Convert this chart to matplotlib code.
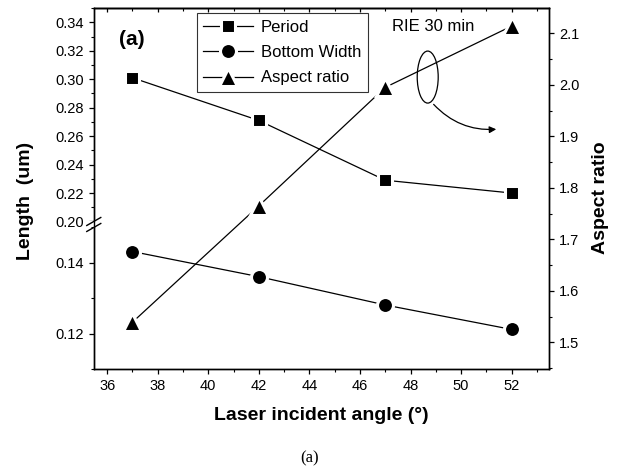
import numpy as np
import matplotlib
matplotlib.use('Agg')
import matplotlib.pyplot as plt
import matplotlib.transforms as mtransforms
from matplotlib.patches import Ellipse, Rectangle
from matplotlib.ticker import MultipleLocator, FixedLocator

plt.rcParams['font.family'] = ['Liberation Sans', 'DejaVu Sans']

angle = [37, 42, 47, 52]
period = [0.301, 0.271, 0.229, 0.220]
bottom_width = [0.1432, 0.1361, 0.1281, 0.1212]
aspect_ratio = [1.539, 1.765, 1.995, 2.114]

# broken left axis: 0.11-0.15 below, 0.20-0.35 above
brk_vals = [0.11, 0.15, 0.20, 0.35]
brk_pos = [0.0, 142.0, 148.0, 362.0]


def fwd(v):
    return np.interp(v, brk_vals, brk_pos)


def inv(p):
    return np.interp(p, brk_pos, brk_vals)


fig = plt.figure(figsize=(6.19, 4.75), dpi=100)
ax = fig.add_axes([0.1515, 0.223, 0.7355, 0.760])
ax.set_yscale('function', functions=(fwd, inv))
ax2 = ax.twinx()

mk = dict(color='black', lw=0.9, markeredgecolor='white', markeredgewidth=2.2)
l1, = ax.plot(angle, period, marker='s', markersize=10.5, label='Period', **mk)
l2, = ax.plot(angle, bottom_width, marker='o', markersize=11.5, label='Bottom Width', **mk)
l3, = ax2.plot(angle, aspect_ratio, marker='^', markersize=12.5, label='Aspect ratio', **mk)

ax.set_xlim(35.47, 53.48)
ax.set_ylim(0.11, 0.35)
ax2.set_ylim(1.448, 2.149)

ax.xaxis.set_major_locator(MultipleLocator(2))
ax.xaxis.set_minor_locator(MultipleLocator(1))
ax.yaxis.set_major_locator(FixedLocator([0.12, 0.14, 0.20, 0.22, 0.24, 0.26, 0.28, 0.30, 0.32, 0.34]))
ax.yaxis.set_minor_locator(FixedLocator([0.11, 0.13, 0.15, 0.21, 0.23, 0.25, 0.27, 0.29, 0.31, 0.33, 0.35]))
ax.yaxis.set_major_formatter(plt.FuncFormatter(lambda v, p: '%.2f' % v))
ax2.yaxis.set_major_locator(MultipleLocator(0.1))
ax2.yaxis.set_minor_locator(MultipleLocator(0.05))
ax2.yaxis.set_major_formatter(plt.FuncFormatter(lambda v, p: '%.1f' % v))

ax.tick_params(axis='both', which='major', direction='out', length=3.5, width=0.9,
               labelsize=10.5, pad=3.5)
ax.tick_params(axis='both', which='minor', direction='out', length=2, width=0.8)
ax2.tick_params(axis='y', which='major', direction='out', length=3.5, width=0.9,
                labelsize=10.5, pad=3.5)
ax2.tick_params(axis='y', which='minor', direction='out', length=2, width=0.8)

# top ticks point inward
top = ax.secondary_xaxis('top')
top.xaxis.set_major_locator(MultipleLocator(2))
top.xaxis.set_minor_locator(MultipleLocator(1))
top.tick_params(which='major', direction='in', length=3, width=0.9, labeltop=False)
top.tick_params(which='minor', direction='in', length=2, width=0.8)

for a in (ax, ax2, top):
    for s in a.spines.values():
        s.set_linewidth(1.0)

ax.set_xlabel('Laser incident angle (°)', fontsize=14, fontweight='bold', labelpad=10)
ax.set_ylabel('Length  (um)', fontsize=14, fontweight='bold')
ax.yaxis.set_label_coords(-0.132, 0.467)
ax2.set_ylabel('Aspect ratio', fontsize=14, fontweight='bold')
ax2.yaxis.set_label_coords(1.095, 0.475)

# axis break marks on the left spine
tr = mtransforms.blended_transform_factory(ax.transAxes, ax.transData)
y_lo, y_hi = 0.15, 0.20
ax.add_patch(Rectangle((-0.01, y_lo), 0.02, y_hi - y_lo, transform=tr,
                       facecolor='white', edgecolor='none', clip_on=False, zorder=5))
for yy in (y_lo, y_hi):
    p = ax.transData.transform((ax.get_xlim()[0], yy))
    ax.add_line(plt.Line2D([p[0] - 7, p[0] + 7], [p[1] - 4, p[1] + 4], transform=None,
                           color='black', lw=1.0, clip_on=False, zorder=6))

leg = ax.legend(handles=[l1, l2, l3], loc='upper left', bbox_to_anchor=(0.226, 0.986),
                borderaxespad=0, fontsize=12, frameon=True, fancybox=False,
                edgecolor='black', handlelength=3.0, labelspacing=0.62, borderpad=0.4,
                handletextpad=0.45)
leg.get_frame().set_linewidth(0.8)

ax.text(0.055, 0.914, '(a)', transform=ax.transAxes, fontsize=15, fontweight='bold',
        va='center', ha='left')
ax.text(0.655, 0.948, 'RIE 30 min', transform=ax.transAxes, fontsize=12,
        va='center', ha='left')

ax2.add_patch(Ellipse((48.68, 2.015), 0.83, 0.101, facecolor='none',
                      edgecolor='black', lw=0.9))
ax2.annotate('', xy=(51.5, 1.914), xytext=(48.84, 1.966),
             arrowprops=dict(arrowstyle='-|>', color='black', lw=0.9,
                             connectionstyle='arc3,rad=0.25', mutation_scale=10))

fig.text(0.5, 0.036, '(a)', fontsize=12, ha='center', va='center',
         family=['Liberation Serif', 'DejaVu Serif'])

fig.savefig('out.png', dpi=100)
